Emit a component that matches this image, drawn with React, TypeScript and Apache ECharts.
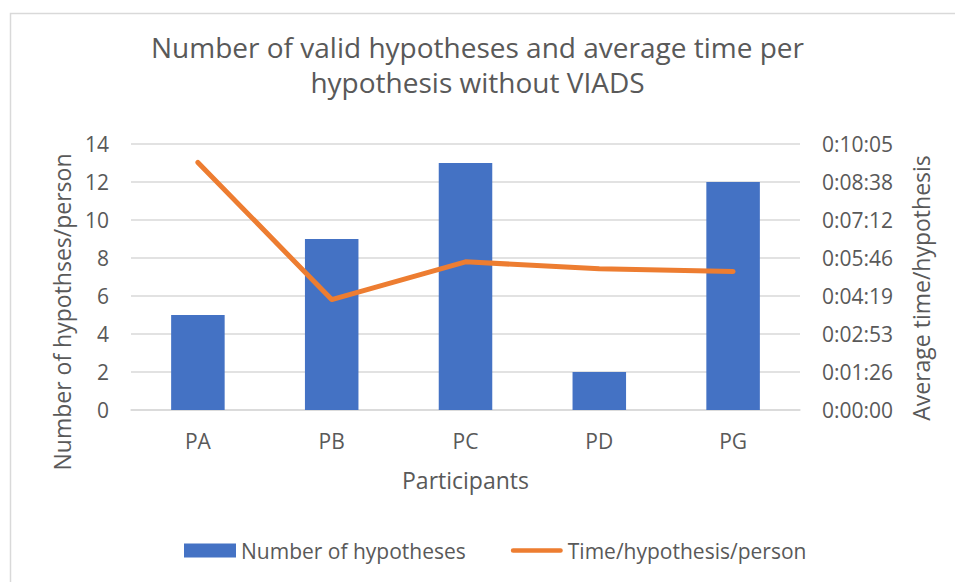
import React, { useEffect, useRef } from "react";
import * as echarts from "echarts";

const categories = ["PA", "PB", "PC", "PD", "PG"];
const hypothesesCount = [5, 9, 13, 2, 12];
// average time per hypothesis, in seconds
const timePerHypothesisSec = [563, 251, 337, 321, 315];

const leftMin = 0;
const leftMax = 14;
const leftInterval = 2;
// Excel-style time axis: 0.001 day steps (86.4 s), up to 0.007 day
const rightMin = 0;
const rightInterval = 86.4;
const rightMax = 604.8;

const titleText = "Number of valid hypotheses and average time per\nhypothesis without VIADS";
const xAxisName = "Participants";
const leftAxisName = "Number of hypothses/person";
const rightAxisName = "Average time/hypothesis";
const seriesNames = ["Number of hypotheses", "Time/hypothesis/person"];

const FONT = "'Open Sans', 'Noto Sans', sans-serif";
const TEXT = "#595959";
const GRID = "#D9D9D9";

function pad(n: number) {
  return n < 10 ? "0" + n : String(n);
}
function fmtTime(v: number) {
  const s = Math.round(v);
  const h = Math.floor(s / 3600);
  const m = Math.floor((s % 3600) / 60);
  const sec = s % 60;
  return `${h}:${pad(m)}:${pad(sec)}`;
}

export default function App() {
  const ref = useRef<HTMLDivElement>(null);
  useEffect(() => {
    if (!ref.current) return;
    const chart = echarts.init(ref.current, null, { renderer: "svg" });
    chart.setOption({
      animation: false,
      backgroundColor: "#ffffff",
      textStyle: { fontFamily: FONT, color: TEXT },
      title: {
        text: titleText,
        left: "center",
        top: 29,
        padding: 0,
        textStyle: {
          fontFamily: FONT,
          fontSize: 28,
          fontWeight: "normal",
          color: TEXT,
          lineHeight: 35,
        },
      },
      grid: { left: 131, right: 155, top: 144, bottom: 172 },
      legend: {
        left: 184,
        top: 540,
        padding: 0,
        itemWidth: 52,
        itemHeight: 14,
        itemGap: 45,
        textStyle: { fontFamily: FONT, fontSize: 21, color: TEXT },
        data: [
          { name: seriesNames[0], icon: "rect" },
          {
            name: seriesNames[1],
            icon: "path://M2.5,0 H54.5 A2.5,2.5 0 0 1 54.5,5 H2.5 A2.5,2.5 0 0 1 2.5,0 Z",
          },
        ],
      },
      graphic: [
        {
          type: "rect",
          silent: true,
          shape: { x: 10.5, y: 13.5, width: 1200, height: 1200 },
          style: { fill: "none", stroke: GRID, lineWidth: 1.5 },
          z: -10,
        },
        {
          type: "text",
          x: 62,
          y: 312,
          rotation: Math.PI / 2,
          style: {
            text: leftAxisName,
            fontFamily: FONT,
            fontSize: 23,
            fill: TEXT,
            align: "center",
            verticalAlign: "middle",
          },
        },
        {
          type: "text",
          x: 921,
          y: 288,
          rotation: Math.PI / 2,
          style: {
            text: rightAxisName,
            fontFamily: FONT,
            fontSize: 23,
            fill: TEXT,
            align: "center",
            verticalAlign: "middle",
          },
        },
      ],
      xAxis: {
        type: "category",
        data: categories,
        name: xAxisName,
        nameLocation: "middle",
        nameGap: 58,
        nameTextStyle: { fontFamily: FONT, fontSize: 23, color: TEXT, verticalAlign: "top" },
        axisLine: { lineStyle: { color: GRID, width: 1.5 } },
        axisTick: { show: false },
        axisLabel: { fontFamily: FONT, fontSize: 21, color: TEXT, margin: 20 },
      },
      yAxis: [
        {
          type: "value",
          min: leftMin,
          max: leftMax,
          interval: leftInterval,
          axisLine: { show: false },
          axisTick: { show: false },
          splitLine: { lineStyle: { color: GRID, width: 1.5 } },
          axisLabel: { fontFamily: FONT, fontSize: 21, color: TEXT, margin: 22 },
        },
        {
          type: "value",
          min: rightMin,
          max: rightMax,
          interval: rightInterval,
          axisLine: { show: false },
          axisTick: { show: false },
          splitLine: { show: false },
          axisLabel: {
            fontFamily: FONT,
            fontSize: 21,
            color: TEXT,
            margin: 22,
            formatter: (v: number) => fmtTime(v),
          },
        },
      ],
      series: [
        {
          name: seriesNames[0],
          type: "bar",
          data: hypothesesCount,
          yAxisIndex: 0,
          barWidth: "40%",
          itemStyle: { color: "#4472C4" },
        },
        {
          name: seriesNames[1],
          type: "line",
          data: timePerHypothesisSec,
          yAxisIndex: 1,
          showSymbol: false,
          symbol: "none",
          itemStyle: { color: "#ED7D31" },
          lineStyle: { color: "#ED7D31", width: 5, cap: "round", join: "round" },
        },
      ],
    });
    return () => chart.dispose();
  }, []);
  return (
    <div
      ref={ref}
      style={{ position: "fixed", left: 0, top: 0, width: 955, height: 582 }}
    />
  );
}
